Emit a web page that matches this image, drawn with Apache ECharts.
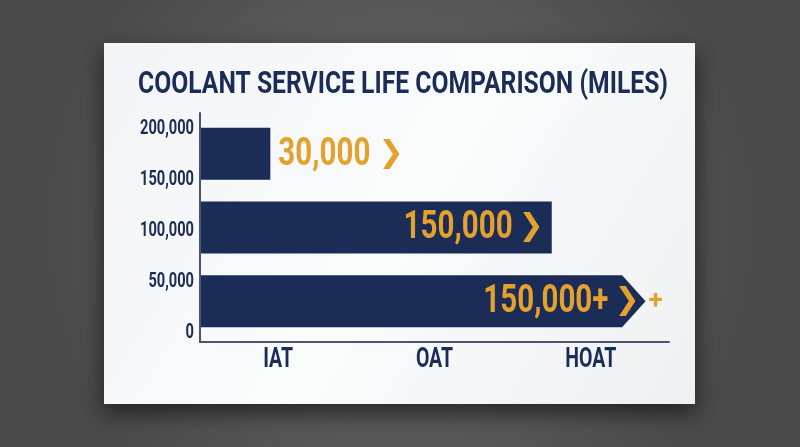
<!DOCTYPE html>
<html>
<head>
<meta charset="utf-8">
<script src="https://cdn.jsdelivr.net/npm/echarts@6/dist/echarts.min.js"></script>
<style>
html, body { margin: 0; padding: 0; }
#chart { width: 800px; height: 447px; }
</style>
</head>
<body>
<div id="chart"></div>
<script>
// data
var categories = ['IAT', 'OAT', 'HOAT'];
var barEnds = [30000, 150000, 180000];      // where the bar body stops
var arrowTips = [null, null, 190000];       // HOAT bar ends in an arrow
var valueLabels = ['30,000', '150,000', '150,000+'];
var axisTicks = [0, 50000, 100000, 150000, 200000];
var titleText = 'COOLANT SERVICE LIFE COMPARISON (MILES)';

var NAVY = '#1b2d57';
var GOLD = '#e4a12e';
var FONT = 'Roboto';

// no condensed font installed, so squeeze Roboto Bold horizontally
var ctx = document.createElement('canvas').getContext('2d');
function textWidth(str, size, family) {
    ctx.font = 'bold ' + size + 'px ' + (family || FONT);
    return ctx.measureText(str).width;
}
var titleScale = 530 / textWidth(titleText, 32);
var tickScale = 54 / textWidth('200,000', 21);
var catScale = 51 / textWidth('HOAT', 28);
var valScale = 109 / textWidth('150,000', 39);
var CHEV = '❯';
var chevWidth = textWidth(CHEV, 30, 'DejaVu Sans');

var chart = echarts.init(document.getElementById('chart'));

var barData = categories.map(function (c, i) {
    return [barEnds[i], c, arrowTips[i] || barEnds[i], valueLabels[i]];
});

function condensed(text, x, y, size, scale, align, vAlign, color) {
    return {
        type: 'text', x: x, y: y, scaleX: scale,
        style: {
            text: text, fontSize: size, fontWeight: 'bold', fontFamily: FONT,
            fill: color || NAVY, align: align, verticalAlign: vAlign || 'middle'
        }
    };
}

function chevron(x, y) {
    return {
        type: 'text', x: x, y: y,
        style: {
            text: CHEV, fontSize: 30, fontWeight: 'bold', fontFamily: 'DejaVu Sans',
            fill: GOLD, align: 'left', verticalAlign: 'middle'
        }
    };
}

function renderBar(params, api) {
    var start = api.coord([0, api.value(1)]);
    var end = api.coord([api.value(0), api.value(1)]);
    var tip = api.coord([api.value(2), api.value(1)]);
    var h = api.size([0, 1])[1] * 0.705;
    var cy = start[1];
    var y0 = cy - h / 2, y1 = cy + h / 2;
    var x0 = start[0] + 1;
    var pts = [[x0, y0], [end[0], y0]];
    var hasArrow = tip[0] > end[0];
    if (hasArrow) pts.push([tip[0], cy]);
    pts.push([end[0], y1], [x0, y1]);

    var label = api.value(3);
    var right = hasArrow ? tip[0] : end[0];
    var inside = right - x0 > 200;
    var vw = textWidth(label, 39) * valScale;
    var children = [{
        type: 'polygon',
        shape: { points: pts },
        style: { fill: NAVY }
    }];
    var tx;
    if (inside) {
        var chevX = right - (hasArrow ? 6 : 8) - chevWidth;
        children.push(chevron(chevX, cy));
        tx = chevX - 6;
        children.push(condensed(label, tx, cy + 1, 39, valScale, 'right', 'middle', GOLD));
    } else {
        tx = right + 8;
        children.push(condensed(label, tx, cy + 1, 39, valScale, 'left', 'middle', GOLD));
        children.push(chevron(tx + vw + 8, cy));
    }
    if (hasArrow) {
        children.push(condensed('+', tip[0] + 3, cy, 26, 1, 'left', 'middle', GOLD));
    }
    return { type: 'group', children: children };
}

var option = {
    backgroundColor: {
        type: 'radial', x: 0.5, y: 0.5, r: 0.8,
        colorStops: [{ offset: 0, color: '#6c6c6c' }, { offset: 1, color: '#4a4a4a' }]
    },
    graphic: [{
        type: 'rect',
        z: -10,
        shape: { x: 104, y: 43, width: 591, height: 361 },
        style: {
            fill: {
                type: 'linear', x: 0, y: 0, x2: 1, y2: 1,
                colorStops: [{ offset: 0, color: '#f3f4f6' }, { offset: 0.5, color: '#fafbfb' }, { offset: 1, color: '#eef0f2' }]
            },
            shadowBlur: 22, shadowColor: 'rgba(0,0,0,0.6)', shadowOffsetY: 9
        }
    }, {
        type: 'text',
        x: 403, y: 85, scaleX: titleScale,
        style: {
            text: titleText, fontSize: 32, fontWeight: 'bold', fontFamily: FONT,
            fill: NAVY, align: 'center', verticalAlign: 'middle'
        }
    }],
    grid: [
        { left: 200, top: 113, width: 469, height: 229 },   // frame + category labels
        { left: 200, top: 129, width: 469, height: 204 },   // left value labels
        { left: 200, top: 117, width: 469, height: 221 }    // bars
    ],
    xAxis: [{
        gridIndex: 0, type: 'value', min: 0, max: 200000,
        axisLine: { show: true, onZero: false, lineStyle: { color: '#4b566e', width: 2 } },
        axisTick: { show: false }, axisLabel: { show: false }, splitLine: { show: false }
    }, {
        gridIndex: 0, type: 'category', data: categories, position: 'bottom',
        axisLine: { show: false }, axisTick: { show: false }, splitLine: { show: false },
        axisLabel: { show: false }
    }, {
        gridIndex: 1, type: 'value', min: 0, max: 200000, show: false
    }, {
        gridIndex: 2, type: 'value', min: 0, max: 200000, show: false
    }],
    yAxis: [{
        gridIndex: 0, type: 'value', min: 0, max: 1,
        axisLine: { show: true, onZero: false, lineStyle: { color: '#4b566e', width: 2 } },
        axisTick: { show: false }, axisLabel: { show: false }, splitLine: { show: false }
    }, {
        gridIndex: 1, type: 'value',
        min: axisTicks[0], max: axisTicks[axisTicks.length - 1],
        interval: axisTicks[1] - axisTicks[0],
        axisLine: { show: false }, axisTick: { show: false }, splitLine: { show: false },
        axisLabel: { show: false }
    }, {
        gridIndex: 2, type: 'category', data: categories, inverse: true, show: false
    }],
    series: [{
        // bars
        type: 'custom',
        xAxisIndex: 3,
        yAxisIndex: 2,
        renderItem: renderBar,
        encode: { x: [0, 2], y: 1 },
        data: barData
    }, {
        // left tick labels, placed by the value axis of grid 1
        type: 'custom',
        xAxisIndex: 2,
        yAxisIndex: 1,
        silent: true,
        renderItem: function (params, api) {
            var p = api.coord([0, api.value(1)]);
            return condensed(api.value(1).toLocaleString('en-US'), p[0] - 6, p[1], 21, tickScale, 'right');
        },
        encode: { x: 0, y: 1 },
        data: axisTicks.map(function (v) { return [0, v]; })
    }, {
        // category labels under the frame
        type: 'custom',
        xAxisIndex: 1,
        yAxisIndex: 0,
        silent: true,
        renderItem: function (params, api) {
            var p = api.coord([api.value(0), 0]);
            return condensed(categories[params.dataIndex], p[0], p[1] + 18, 28, catScale, 'center');
        },
        encode: { x: 0, y: 1 },
        data: categories.map(function (c) { return [c, 0]; })
    }]
};

chart.setOption(option);
</script>
</body>
</html>
